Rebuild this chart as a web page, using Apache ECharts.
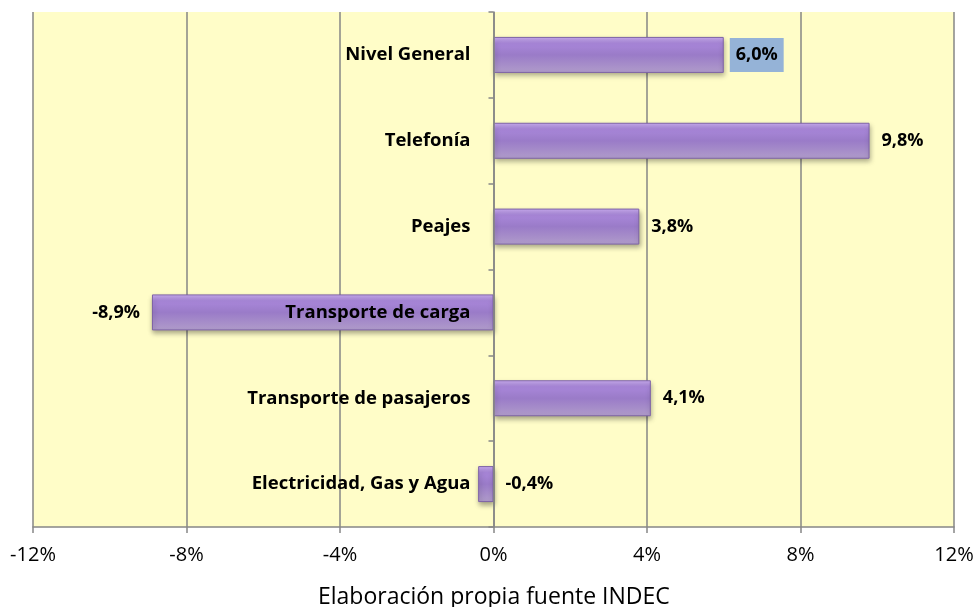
<!DOCTYPE html>
<html>
<head>
<meta charset="utf-8">
<script src="https://cdn.jsdelivr.net/npm/echarts@6/dist/echarts.min.js"></script>
<style>
  html, body { margin: 0; padding: 0; background: #fff; }
  #chart { width: 973px; height: 607px; }
</style>
</head>
<body>
<div id="chart"></div>
<script>
// datos (de arriba hacia abajo)
var categorias = ['Nivel General', 'Telefonía', 'Peajes', 'Transporte de carga', 'Transporte de pasajeros', 'Electricidad, Gas y Agua'];
var variacion = [6.0, 9.8, 3.8, -8.9, 4.1, -0.4];
var posEtiqueta = ['right', 'right', 'right', 'left', 'right', 'right'];
var ticksX = [-12, -8, -4, 0, 4, 8, 12];

function fmt(v) {
  return v.toFixed(1).replace('.', ',') + '%';
}

var myChart = echarts.init(document.getElementById('chart'));

var barColor = new echarts.graphic.LinearGradient(0, 0, 0, 1, [
  { offset: 0, color: '#cdb0f4' },
  { offset: 0.18, color: '#a987da' },
  { offset: 0.5, color: '#9a7bc8' },
  { offset: 1, color: '#b09cca' }
]);

var datos = [];
for (let i = 0; i < variacion.length; i++) {
  let lab = {
    show: true,
    position: posEtiqueta[i],
    distance: 12,
    fontFamily: 'Open Sans',
    fontWeight: 'bold',
    fontSize: 18,
    color: '#000',
    formatter: function (p) { return fmt(p.value); }
  };
  if (i === 0) {
    lab.backgroundColor = '#95b3d7';
    lab.padding = [8, 6, 8, 6];
    lab.distance = 6;
  }
  datos.push({ value: variacion[i], label: lab });
}

// serie auxiliar en cero: solo lleva los nombres junto al eje 0
var ceros = categorias.map(function () { return 0; });

var option = {
  backgroundColor: '#fff',
  animation: false,
  title: {
    text: 'Elaboración propia fuente INDEC',
    left: 313,
    top: 581,
    textStyle: { fontFamily: 'Open Sans', fontWeight: 'normal', fontSize: 23, color: '#000' }
  },
  grid: {
    left: 33,
    right: 19,
    top: 12,
    bottom: 80,
    outerBoundsMode: 'none',
    containLabel: false,
    show: true,
    backgroundColor: '#fffdc8',
    borderWidth: 0
  },
  xAxis: {
    type: 'value',
    min: ticksX[0],
    max: ticksX[ticksX.length - 1],
    interval: 4,
    axisLine: { show: true, lineStyle: { color: '#868686', width: 1.5 } },
    axisTick: { show: true, length: 6, lineStyle: { color: '#868686', width: 1.5 } },
    axisLabel: {
      margin: 18,
      fontFamily: 'Open Sans',
      fontSize: 20,
      color: '#000',
      formatter: function (v) { return v + '%'; }
    },
    splitLine: { show: true, lineStyle: { color: '#868686', width: 1.5 } }
  },
  yAxis: {
    type: 'category',
    inverse: true,
    data: categorias,
    z: 10,
    axisLine: { show: true, onZero: true, lineStyle: { color: '#868686', width: 1.5 } },
    axisTick: { show: true, length: 5, lineStyle: { color: '#868686', width: 1.5 } },
    axisLabel: { show: false },
    splitLine: { show: false }
  },
  series: [{
    type: 'bar',
    barWidth: 36,
    data: datos,
    itemStyle: {
      color: barColor,
      borderColor: '#7d62a6',
      borderWidth: 1,
      shadowColor: 'rgba(0,0,0,0.35)',
      shadowBlur: 5,
      shadowOffsetX: 1,
      shadowOffsetY: 3
    }
  }, {
    type: 'bar',
    barWidth: 36,
    barGap: '-100%',
    z: 5,
    data: ceros,
    silent: true,
    itemStyle: { color: 'rgba(0,0,0,0)' },
    label: {
      show: true,
      position: 'left',
      distance: 23,
      fontFamily: 'Open Sans',
      fontWeight: 'bold',
      fontSize: 18.5,
      color: '#000',
      formatter: function (p) { return p.name; }
    }
  }]
};

myChart.setOption(option);
</script>
</body>
</html>
